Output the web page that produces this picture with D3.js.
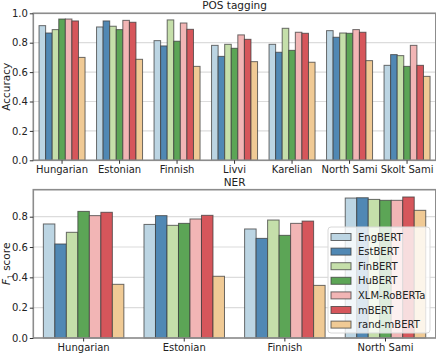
<!DOCTYPE html>
<html>
<head>
<meta charset="utf-8">
<script src="https://cdn.jsdelivr.net/npm/d3@7"></script>
<style>
  body { margin: 0; background: #fff; }
  text { font-family: "DejaVu Sans", sans-serif; }
</style>
</head>
<body>
<svg id="chart" width="436" height="353"></svg>
<script>
// models (legend order)
const models = ['EngBERT', 'EstBERT', 'FinBERT', 'HuBERT', 'XLM-RoBERTa', 'mBERT', 'rand-mBERT']
const colors = ['#bcd5e3', '#5088b4', '#c5dfaa', '#5ca556', '#f2b5b5', '#d6565b', '#f0ca95']

// POS tagging accuracy
const posLangs = ['Hungarian', 'Estonian', 'Finnish', 'Livvi', 'Karelian', 'North Sami', 'Skolt Sami']
const posValues = [
    [0.916, 0.866, 0.889, 0.961, 0.961, 0.948, 0.700],
    [0.907, 0.948, 0.912, 0.889, 0.952, 0.939, 0.687],
    [0.814, 0.778, 0.955, 0.810, 0.934, 0.891, 0.639],
    [0.782, 0.707, 0.789, 0.762, 0.853, 0.823, 0.671],
    [0.789, 0.735, 0.898, 0.748, 0.871, 0.864, 0.667],
    [0.882, 0.837, 0.866, 0.864, 0.889, 0.871, 0.678],
    [0.646, 0.719, 0.712, 0.639, 0.782, 0.646, 0.571]
]
const posTicks = [0.0, 0.2, 0.4, 0.6, 0.8, 1.0]

// NER F1
const nerLangs = ['Hungarian', 'Estonian', 'Finnish', 'North Sami']
const nerValues = [
    [0.752, 0.620, 0.697, 0.835, 0.807, 0.829, 0.354],
    [0.749, 0.807, 0.743, 0.756, 0.785, 0.809, 0.407],
    [0.719, 0.657, 0.778, 0.677, 0.756, 0.771, 0.347],
    [0.923, 0.925, 0.914, 0.908, 0.908, 0.930, 0.842]
]
const nerTicks = [0.0, 0.2, 0.4, 0.6, 0.8]

const svg = d3.select('#chart')

//Draw one bar panel
function drawPanel(opts){

    let x0 = d3.scaleBand()
        .domain(opts.langs)
        .range([opts.left, opts.right])
        .paddingInner(0.2)
        .paddingOuter(0.1)

    let x1 = d3.scaleBand()
        .domain(models)
        .range([0, x0.bandwidth()])

    let y = d3.scaleLinear()
        .domain(opts.ylim)
        .range([opts.bottom, opts.top])

    let g = svg.append('g')

    // grid
    g.selectAll('.grid')
        .data(opts.ticks)
        .enter()
        .append('line')
        .attr('x1', opts.left)
        .attr('x2', opts.right)
        .attr('y1', d => y(d))
        .attr('y2', d => y(d))
        .attr('stroke', '#dcdcdc')
        .attr('stroke-width', 1.2)

    // bars
    let groups = g.selectAll('.grp')
        .data(opts.values)
        .enter()
        .append('g')
        .attr('transform', (d, i) => 'translate(' + x0(opts.langs[i]) + ',0)')

    groups.selectAll('rect')
        .data(d => d.map((v, j) => ({model: models[j], value: v, color: colors[j]})))
        .enter()
        .append('rect')
        .attr('x', d => x1(d.model))
        .attr('y', d => y(d.value))
        .attr('width', x1.bandwidth())
        .attr('height', d => y(0) - y(d.value))
        .attr('fill', d => d.color)
        .attr('stroke', 'rgba(60,60,60,0.75)')
        .attr('stroke-width', 1)

    // frame
    g.append('rect')
        .attr('x', opts.left)
        .attr('y', opts.top)
        .attr('width', opts.right - opts.left)
        .attr('height', opts.bottom - opts.top)
        .attr('fill', 'none')
        .attr('stroke', '#8c8c8c')
        .attr('stroke-width', 1.6)

    // y axis
    let yAxis = d3.axisLeft(y)
        .tickValues(opts.ticks)
        .tickFormat(d3.format('.1f'))
        .tickSize(3.5)
        .tickPadding(2)

    g.append('g')
        .attr('transform', 'translate(' + opts.left + ',0)')
        .call(yAxis)
        .call(a => a.select('.domain').remove())
        .call(a => a.selectAll('text').attr('font-size', 10).attr('fill', '#222'))
        .call(a => a.selectAll('line').attr('stroke', '#333'))

    // x axis
    let xAxis = d3.axisBottom(x0)
        .tickSize(3.5)
        .tickPadding(2)

    g.append('g')
        .attr('transform', 'translate(0,' + opts.bottom + ')')
        .call(xAxis)
        .call(a => a.select('.domain').remove())
        .call(a => a.selectAll('text').attr('font-size', 10).attr('fill', '#222'))
        .call(a => a.selectAll('line').attr('stroke', '#333'))

    // title
    g.append('text')
        .attr('x', (opts.left + opts.right) / 2)
        .attr('y', opts.top - 4)
        .attr('text-anchor', 'middle')
        .attr('font-size', 10.5)
        .attr('fill', '#222')
        .text(opts.title)

    // y label
    let yl = g.append('text')
        .attr('transform', 'translate(10,' + ((opts.top + opts.bottom) / 2) + ') rotate(-90)')
        .attr('text-anchor', 'middle')
        .attr('font-size', 10.5)
        .attr('fill', '#222')
    opts.ylabel(yl)

    return {x0, y}
}

drawPanel({
    langs: posLangs, values: posValues, ticks: posTicks,
    left: 33.3, right: 435.8, top: 13.3, bottom: 160.3,
    ylim: [0, 1], title: 'POS tagging',
    ylabel: t => t.text('Accuracy')
})

drawPanel({
    langs: nerLangs, values: nerValues, ticks: nerTicks,
    left: 33.3, right: 435.8, top: 189.7, bottom: 338,
    ylim: [0, 0.978], title: 'NER',
    ylabel: t => {
        t.append('tspan').attr('font-style', 'italic').text('F')
        t.append('tspan').attr('font-size', 7.5).attr('dy', 3).text('1')
        t.append('tspan').attr('dy', -3).text(' score')
    }
})

// legend
const legend = svg.append('g').attr('transform', 'translate(328,227)')

legend.append('rect')
    .attr('width', 102)
    .attr('height', 106)
    .attr('rx', 3)
    .attr('fill', 'rgba(255,255,255,0.8)')
    .attr('stroke', '#d8d8d8')

const items = legend.selectAll('.item')
    .data(models)
    .enter()
    .append('g')
    .attr('transform', (d, i) => 'translate(3,' + (6.5 + i * 14.6) + ')')

items.append('rect')
    .attr('width', 20)
    .attr('height', 7)
    .attr('fill', (d, i) => colors[i])
    .attr('stroke', 'rgba(60,60,60,0.75)')

items.append('text')
    .attr('x', 27)
    .attr('y', 3.5)
    .attr('dominant-baseline', 'central')
    .attr('font-size', 10)
    .attr('fill', '#222')
    .text(d => d)
</script>
</body>
</html>
